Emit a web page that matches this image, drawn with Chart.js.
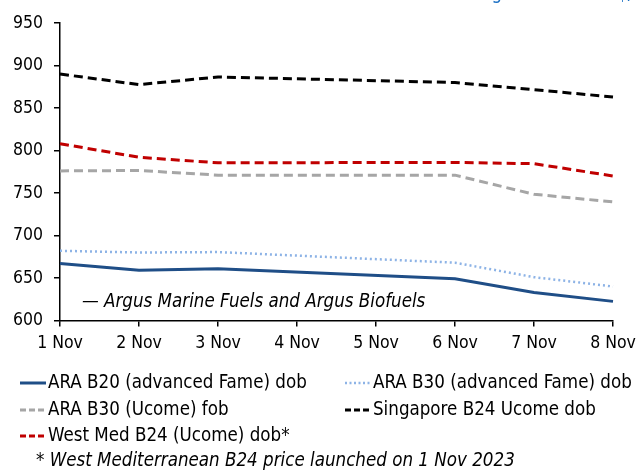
<!DOCTYPE html>
<html>
<head>
<meta charset="utf-8">
<script src="https://cdn.jsdelivr.net/npm/chart.js@4.4.1/dist/chart.umd.min.js"></script>
<style>
  html, body { margin: 0; padding: 0; background: #fff; }
  #wrap { position: relative; width: 636px; height: 471px; }
</style>
</head>
<body>
<div id="wrap"><canvas id="c" width="636" height="471"></canvas></div>
<script>
const categories = ['1 Nov', '2 Nov', '3 Nov', '4 Nov', '5 Nov', '6 Nov', '7 Nov', '8 Nov'];
const yTicks = [600, 650, 700, 750, 800, 850, 900, 950];

const ara20Fame = [667, 659, 661, null, null, 649, 633, 622.5];
const ara30Fame = [682, 680, 680.5, null, null, 668, 651, 640];
const ara30Ucome = [776, 776.5, 771, null, null, 771, 748.5, 739.5];
const singaporeB24 = [890, 877.5, 886.5, null, null, 880, 871.5, 863];
const westMedB24 = [808, 792, 785.5, null, null, 786, 784.5, 770];

const seriesNames = [
  'ARA B20 (advanced Fame) dob',
  'ARA B30 (advanced Fame) dob',
  'ARA B30 (Ucome) fob',
  'Singapore B24 Ucome dob',
  'West Med B24 (Ucome) dob*'
];
const sourceText = '\u2014 Argus Marine Fuels and Argus Biofuels';
const footnoteText = '* West Mediterranean B24 price launched on 1 Nov 2023';

const FONT = '"DejaVu Sans Condensed", "Liberation Sans", sans-serif';
const FS = 17.5;
const FS_TEXT = 18.6;

const datasets = [
  { label: seriesNames[0], data: ara20Fame, borderColor: '#1f4e87', borderWidth: 3, borderDash: [], legendDash: [] },
  { label: seriesNames[1], data: ara30Fame, borderColor: '#8db3e6', borderWidth: 2.5, borderDash: [2, 3], legendDash: [2, 2.5] },
  { label: seriesNames[2], data: ara30Ucome, borderColor: '#a6a6a6', borderWidth: 3, borderDash: [9, 5], legendDash: [6, 3] },
  { label: seriesNames[3], data: singaporeB24, borderColor: '#000000', borderWidth: 3, borderDash: [9, 5], legendDash: [6, 3] },
  { label: seriesNames[4], data: westMedB24, borderColor: '#c00000', borderWidth: 3, borderDash: [9, 5], legendDash: [6, 3] }
].map(d => Object.assign(d, { fill: false, pointRadius: 0, tension: 0, spanGaps: true, borderCapStyle: 'butt' }));

const legendPos = [
  { x: 20, y: 383 }, { x: 345, y: 383 },
  { x: 20, y: 410 }, { x: 345, y: 410 },
  { x: 20, y: 436 }
];

const extras = {
  id: 'extras',
  afterDraw(chart) {
    const ctx = chart.ctx;
    ctx.save();
    // partial blue header (cut at top edge)
    ctx.fillStyle = '#1a6fc4';
    ctx.font = FS_TEXT + 'px ' + FONT;
    ctx.textBaseline = 'alphabetic';
    ctx.textAlign = 'right';
    ctx.fillText('Marine biofuel bunkering', 502, -1);
    ctx.fillText('$/t', 640, -1);
    // source text inside plot
    ctx.fillStyle = '#000';
    ctx.textAlign = 'left';
    ctx.textBaseline = 'middle';
    ctx.font = 'italic ' + FS_TEXT + 'px ' + FONT;
    ctx.fillText(sourceText, 82, 302);
    // legend
    ctx.font = FS_TEXT + 'px ' + FONT;
    chart.data.datasets.forEach((ds, i) => {
      const p = legendPos[i];
      ctx.beginPath();
      ctx.strokeStyle = ds.borderColor;
      ctx.lineWidth = ds.borderWidth;
      ctx.setLineDash(ds.legendDash);
      ctx.moveTo(p.x, p.y);
      ctx.lineTo(p.x + 26, p.y);
      ctx.stroke();
      ctx.setLineDash([]);
      ctx.fillStyle = '#000';
      ctx.fillText(ds.label, p.x + 28, p.y);
    });
    // footnote
    ctx.font = 'italic ' + FS_TEXT + 'px ' + FONT;
    ctx.fillText(footnoteText, 36, 461);
    ctx.restore();
  }
};

new Chart(document.getElementById('c'), {
  type: 'line',
  data: { labels: categories, datasets },
  options: {
    responsive: false,
    animation: false,
    layout: { padding: { top: 23, right: 23, bottom: 0, left: 0 } },
    plugins: { legend: { display: false }, tooltip: { enabled: false }, title: { display: false } },
    scales: {
      x: {
        type: 'category',
        offset: false,
        grid: { display: true, drawOnChartArea: false, drawTicks: true, tickLength: 6, color: '#000', lineWidth: 1.5 },
        border: { display: true, color: '#000', width: 1.5 },
        ticks: { color: '#000', font: { family: FONT, size: FS }, padding: 6, maxRotation: 0, autoSkip: false },
        afterFit(scale) { scale.height = 471 - 320.5; scale.paddingRight = 0; scale.paddingLeft = 0; }
      },
      y: {
        min: 600, max: 950,
        afterBuildTicks(scale) { scale.ticks = yTicks.map(v => ({ value: v })); },
        grid: { display: true, drawOnChartArea: false, drawTicks: true, tickLength: 6, color: '#000', lineWidth: 1.5 },
        border: { display: true, color: '#000', width: 1.5 },
        ticks: { color: '#000', font: { family: FONT, size: FS }, padding: 11 },
        afterFit(scale) { scale.width = 60; scale.paddingTop = 0; scale.paddingBottom = 0; }
      }
    }
  },
  plugins: [extras]
});
</script>
</body>
</html>
